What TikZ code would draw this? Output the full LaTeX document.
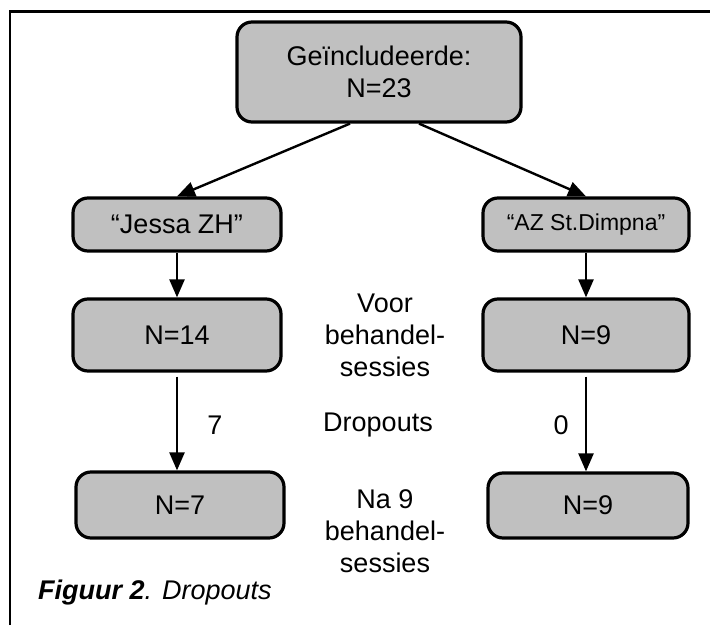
\documentclass[tikz,border=0pt]{standalone}
\usepackage{fontspec}
\setmainfont{Liberation Sans}
\usepackage{tikz}
\usetikzlibrary{arrows.meta,positioning}
\tikzstyle{arrow} = [line width=1.2pt, -{Triangle[length=9pt,width=7.5pt]}]
\definecolor{boxgray}{RGB}{192,192,192}

\begin{document}
\begin{tikzpicture}[x=0.5pt,y=-0.5pt]
\tikzset{box/.style={draw=black,line width=1.6pt,fill=boxgray,rounded corners=7.5pt,minimum width=104pt,align=center,inner sep=0pt,font=\fontsize{13.5}{16}\selectfont},
lbl/.style={align=center,font=\fontsize{13.5}{16}\selectfont}}
\useasboundingbox (0,0) rectangle (710,625);
\draw[line width=1.4pt] (10,625) -- (10,11.5) -- (710,11.5);

\node[box,minimum width=142pt,minimum height=50pt] (top) at (379,72) {Geïncludeerde:\\N=23};
\node[box,minimum height=26.5pt] (jessa) at (177,224.5) {“Jessa ZH”};
\node[box,minimum width=103pt,minimum height=26.5pt,font=\fontsize{11.5}{14}\selectfont] (dimpna) at (586,224.5) {“AZ St.Dimpna”};
\node[box,minimum height=36pt] (n14) at (177,335) {N=14};
\node[box,minimum width=103pt,minimum height=36pt] (n9a) at (586,335) {N=9};
\node[box,minimum height=33pt] (n7) at (180,505) {N=7};
\node[box,minimum width=100pt,minimum height=32.5pt] (n9b) at (588,505.5) {N=9};

\node[lbl] (voor) at (385,335) {Voor\\behandel-\\sessies};
\node[lbl] (drop) at (378,425) {Dropouts};
\node[lbl] (na) at (385,531) {Na 9\\behandel-\\sessies};
\node[lbl] (seven) at (215,425) {7};
\node[lbl] (zero) at (561,425) {0};

\draw[arrow] ([xshift=-14.5pt]top.south) -- (jessa.north);
\draw[arrow] ([xshift=20pt]top.south) -- (dimpna.north);
\draw[arrow] (jessa) -- (n14);
\draw[arrow] (dimpna) -- (n9a);
\draw[arrow] ([yshift=-2pt]n14.south) -- (n14.south |- n7.north);
\draw[arrow] ([yshift=-2pt]n9a.south) -- (n9a.south |- n9b.north);

\node[anchor=west,font=\fontsize{13.5}{16}\selectfont] (cap) at (31,593) {\textbf{\textit{Figuur 2}}\textit{. Dropouts}};
\end{tikzpicture}
\end{document}
